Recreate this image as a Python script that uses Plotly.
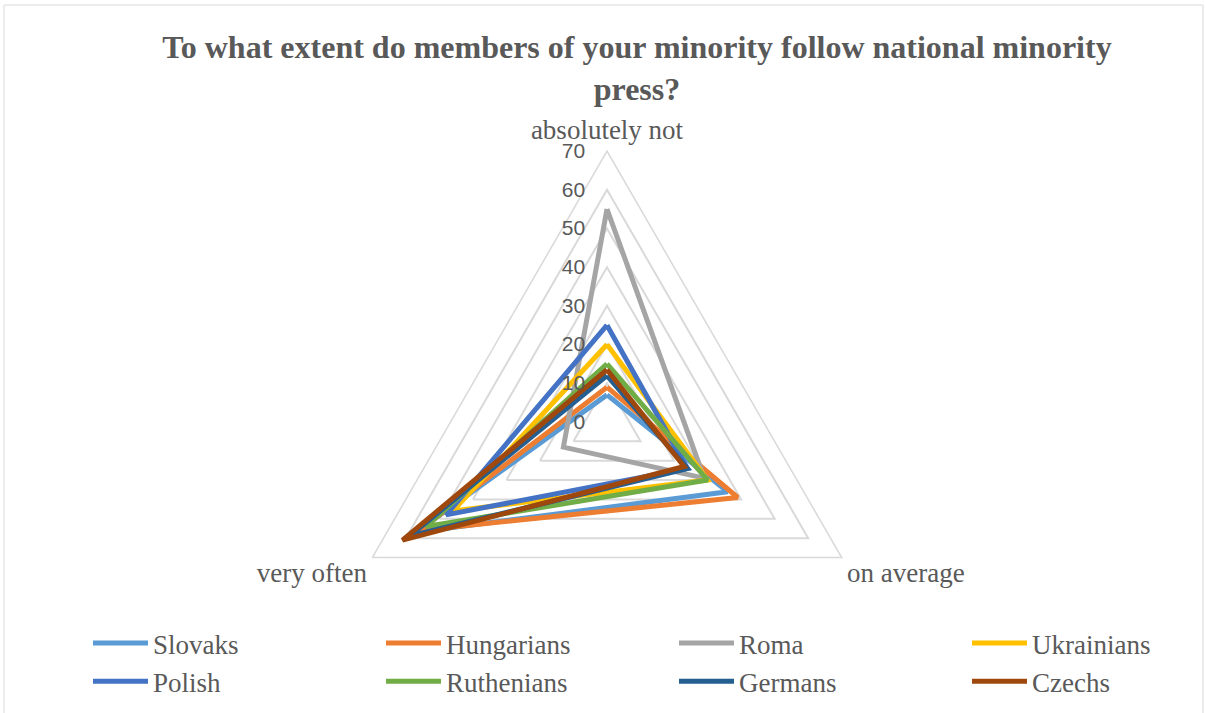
import plotly.graph_objects as go

# Response categories (radar axes, clockwise from top)
categories = ["absolutely not", "on average", "very often"]

# Share of answers (%) per minority
slovaks = [7, 36, 57]
hungarians = [9, 39, 56]
roma = [55, 29, 13]
ukrainians = [20, 30, 46]
polish = [25, 24, 48]
ruthenians = [15, 30, 54]
germans = [12, 24, 59]
czechs = [13.5, 23, 61]

series = [
    ("Slovaks", slovaks, "#5B9BD5"),
    ("Hungarians", hungarians, "#ED7D31"),
    ("Roma", roma, "#A5A5A5"),
    ("Ukrainians", ukrainians, "#FFC000"),
    ("Polish", polish, "#4472C4"),
    ("Ruthenians", ruthenians, "#70AD47"),
    ("Germans", germans, "#255E91"),
    ("Czechs", czechs, "#9E480E"),
]

W, H = 1206, 713
cx, cy, R = 607, 422, 271

fig = go.Figure()
for name, vals, color in series:
    fig.add_trace(go.Scatterpolar(
        r=list(vals) + [vals[0]],
        theta=categories + [categories[0]],
        mode="lines",
        name=name,
        line=dict(color=color, width=5),
    ))

serif = "Liberation Serif, Times New Roman, serif"
grey = "#595959"

fig.update_layout(
    width=W, height=H,
    margin=dict(l=0, r=0, t=0, b=0, autoexpand=False),
    paper_bgcolor="white",
    plot_bgcolor="white",
    title=dict(
        text="<b>To what extent do members of your minority follow national minority<br>press?</b>",
        x=637 / W, xanchor="center",
        y=1 - 58 / H, yanchor="top",
        pad=dict(t=0, b=0),
        font=dict(family=serif, size=32, color=grey),
    ),
    polar=dict(
        domain=dict(x=[(cx - R) / W, (cx + R) / W],
                    y=[(H - cy - R) / H, (H - cy + R) / H]),
        bgcolor="white",
        gridshape="linear",
        radialaxis=dict(
            range=[0, 70], dtick=10, angle=90, tickangle=90,
            side="counterclockwise",
            showline=False, ticks="outside", ticklen=14, tickcolor="rgba(0,0,0,0)",
            gridcolor="#d9d9d9", gridwidth=1.5,
            tickfont=dict(family="Liberation Sans, Arial, sans-serif", size=21, color=grey),
        ),
        angularaxis=dict(
            direction="clockwise", rotation=90,
            showgrid=False, showline=True, linecolor="#d9d9d9", linewidth=1.5,
            ticks="",
            tickfont=dict(family=serif, size=27, color=grey),
        ),
    ),
    legend=dict(
        orientation="h",
        x=88 / W, xanchor="left",
        y=1 - 619 / H, yanchor="top",
        entrywidth=223, entrywidthmode="pixels",
        itemwidth=55,
        font=dict(family=serif, size=27, color=grey),
        bgcolor="rgba(0,0,0,0)",
        tracegroupgap=0,
    ),
    shapes=[dict(
        type="rect", xref="paper", yref="paper",
        x0=4 / W, x1=1 - 3 / W, y0=-0.01, y1=1 - 5 / H,
        line=dict(color="#d9d9d9", width=1),
    )],
)

fig.write_html("out.html")
